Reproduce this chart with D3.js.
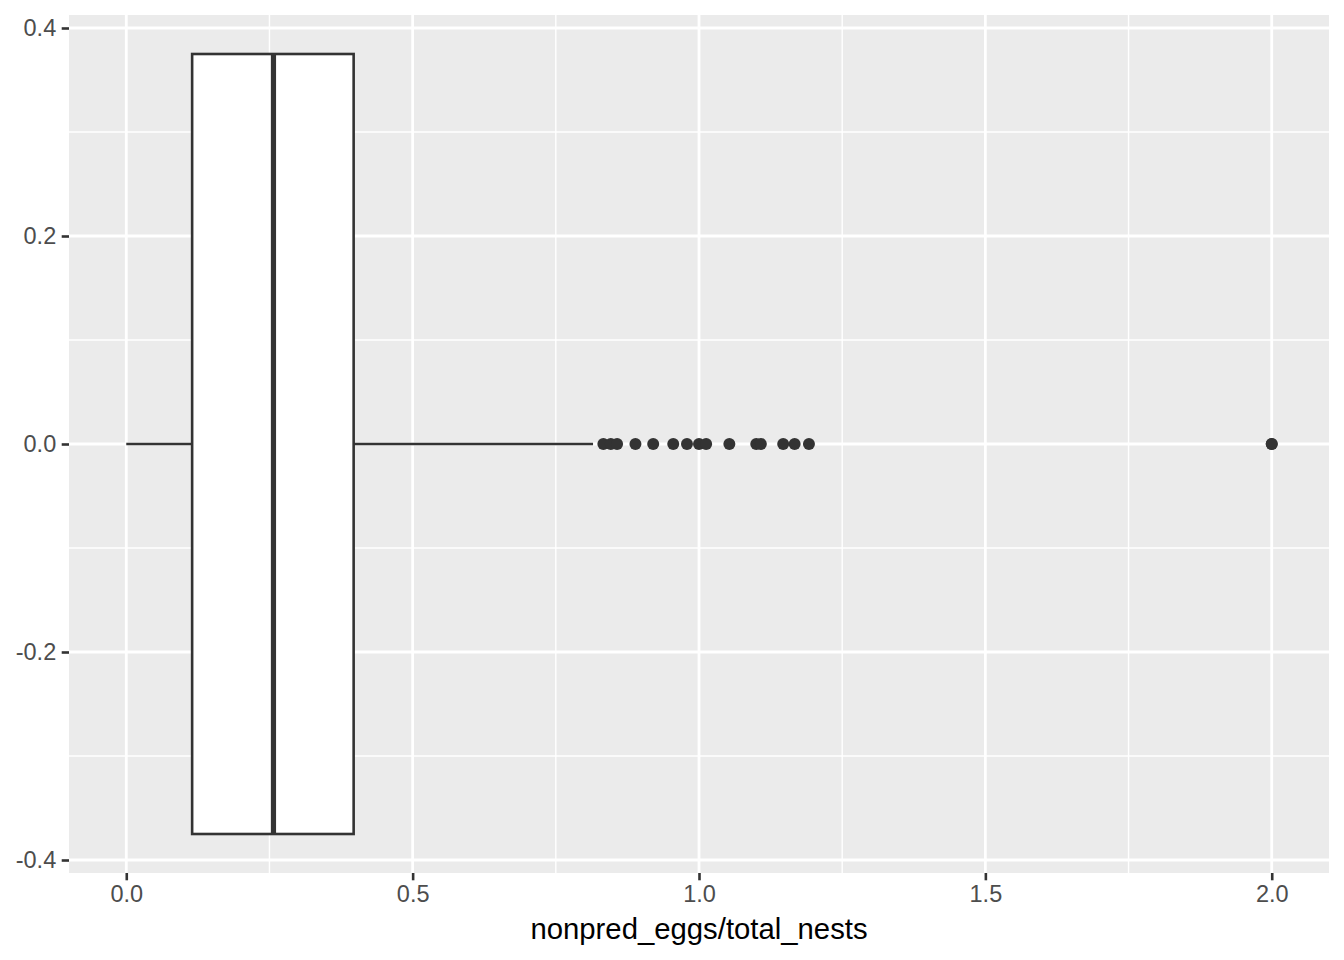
<!DOCTYPE html>
<html>
<head>
<meta charset="utf-8">
<script src="https://cdn.jsdelivr.net/npm/d3@7"></script>
<style>
  html, body { margin: 0; padding: 0; background: #fff; }
  svg { display: block; }
  text { font-family: "Liberation Sans", Arial, Helvetica, sans-serif; }
</style>
</head>
<body>
<svg id="chart" width="1344" height="960"></svg>
<script>
// ---- data ----
const xLabel = "nonpred_eggs/total_nests";
const boxStats = { lower: 0.0, q1: 0.115, median: 0.257, q3: 0.397, upper: 0.815 };
const outliers = [0.833, 0.846, 0.857, 0.889, 0.92, 0.955, 0.979, 1.0, 1.0125, 1.053, 1.1, 1.108, 1.147, 1.167, 1.192, 2.0, 2.0];
const xTicks = [0.0, 0.5, 1.0, 1.5, 2.0];
const xMinor = [0.25, 0.75, 1.25, 1.75];
const yTicks = [-0.4, -0.2, 0.0, 0.2, 0.4];
const yMinor = [-0.3, -0.1, 0.1, 0.3];
const boxHalfWidth = 0.375;

// ---- layout ----
const svg = d3.select("#chart");
const panel = { left: 69, top: 15, right: 1329, bottom: 873 };

const x = d3.scaleLinear().domain([-0.1, 2.1]).range([panel.left, panel.right]);
const y = d3.scaleLinear().domain([-0.4125, 0.4125]).range([panel.bottom, panel.top]);

// panel background
svg.append("rect")
  .attr("x", panel.left).attr("y", panel.top)
  .attr("width", panel.right - panel.left).attr("height", panel.bottom - panel.top)
  .attr("fill", "#EBEBEB");

const grid = svg.append("g");
// minor grid
grid.selectAll(".xmin").data(xMinor).join("line")
  .attr("x1", d => x(d)).attr("x2", d => x(d))
  .attr("y1", panel.top).attr("y2", panel.bottom)
  .attr("stroke", "#fff").attr("stroke-width", 1.4);
grid.selectAll(".ymin").data(yMinor).join("line")
  .attr("y1", d => y(d)).attr("y2", d => y(d))
  .attr("x1", panel.left).attr("x2", panel.right)
  .attr("stroke", "#fff").attr("stroke-width", 1.4);
// major grid
grid.selectAll(".xmaj").data(xTicks).join("line")
  .attr("x1", d => x(d)).attr("x2", d => x(d))
  .attr("y1", panel.top).attr("y2", panel.bottom)
  .attr("stroke", "#fff").attr("stroke-width", 2.8);
grid.selectAll(".ymaj").data(yTicks).join("line")
  .attr("y1", d => y(d)).attr("y2", d => y(d))
  .attr("x1", panel.left).attr("x2", panel.right)
  .attr("stroke", "#fff").attr("stroke-width", 2.8);

// ---- boxplot ----
const g = svg.append("g");
const col = "#333333";
// whiskers
g.append("line")
  .attr("x1", x(boxStats.lower)).attr("x2", x(boxStats.q1))
  .attr("y1", y(0)).attr("y2", y(0))
  .attr("stroke", col).attr("stroke-width", 2.6);
g.append("line")
  .attr("x1", x(boxStats.q3)).attr("x2", x(boxStats.upper))
  .attr("y1", y(0)).attr("y2", y(0))
  .attr("stroke", col).attr("stroke-width", 2.6);
// box
g.append("rect")
  .attr("x", x(boxStats.q1)).attr("y", y(boxHalfWidth))
  .attr("width", x(boxStats.q3) - x(boxStats.q1))
  .attr("height", y(-boxHalfWidth) - y(boxHalfWidth))
  .attr("fill", "#fff").attr("stroke", col).attr("stroke-width", 2.6);
// median
g.append("line")
  .attr("x1", x(boxStats.median)).attr("x2", x(boxStats.median))
  .attr("y1", y(boxHalfWidth)).attr("y2", y(-boxHalfWidth))
  .attr("stroke", col).attr("stroke-width", 5.2);
// outliers
g.selectAll("circle").data(outliers).join("circle")
  .attr("cx", d => x(d)).attr("cy", y(0)).attr("r", 6)
  .attr("fill", col);

// ---- axes ----
const xAxis = svg.append("g")
  .attr("transform", `translate(0,${panel.bottom})`)
  .call(d3.axisBottom(x).tickValues(xTicks).tickFormat(d3.format(".1f")).tickSizeOuter(0).tickSize(7.3).tickPadding(5.5));
const yAxis = svg.append("g")
  .attr("transform", `translate(${panel.left},0)`)
  .call(d3.axisLeft(y).tickValues(yTicks).tickFormat(d3.format(".1f")).tickSizeOuter(0).tickSize(7.3).tickPadding(5.5));
[xAxis, yAxis].forEach(a => {
  a.select(".domain").remove();
  a.selectAll(".tick line").attr("stroke", col).attr("stroke-width", 2.6);
  a.selectAll(".tick text")
    .attr("fill", "#4D4D4D")
    .style("font-size", "23.5px")
    .style("font-family", "'Liberation Sans', Arial, Helvetica, sans-serif");
});
yAxis.selectAll(".tick text").text(d => d3.format(".1f")(d).replace("−", "-"));

// x axis title
svg.append("text")
  .attr("x", (panel.left + panel.right) / 2)
  .attr("y", 939)
  .attr("text-anchor", "middle")
  .attr("fill", "#000")
  .style("font-size", "29.3px")
  .text(xLabel);
</script>
</body>
</html>
